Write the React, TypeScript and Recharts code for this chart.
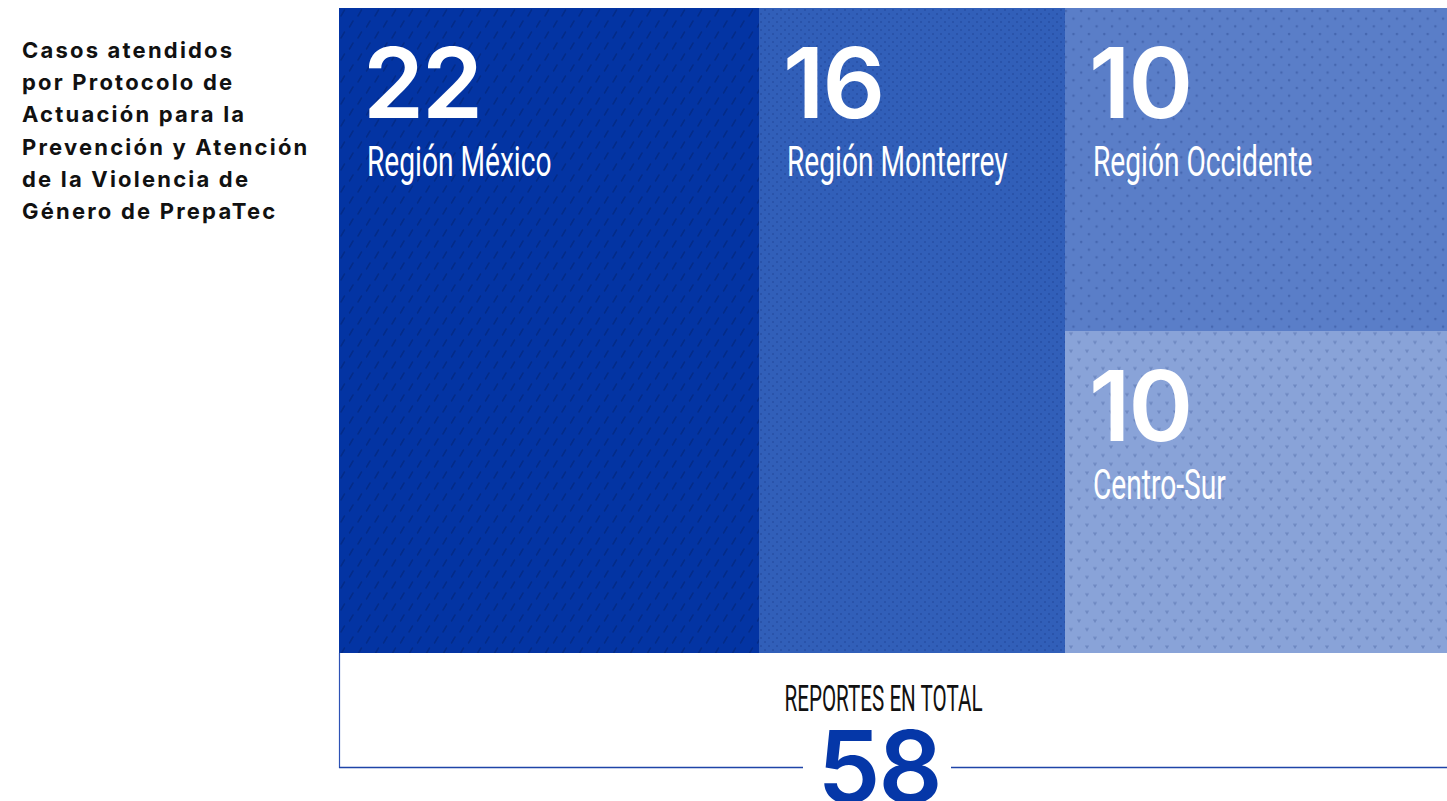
import React from 'react';
import { Treemap } from 'recharts';

// ---------- data ----------
const regionNames = ['Región México', 'Región Monterrey', 'Región Occidente', 'Centro-Sur'];
const regionValues = [22, 16, 10, 10];
const groupName = 'Occidente y Centro-Sur';
const titleLines = [
  'Casos atendidos',
  'por Protocolo de',
  'Actuación para la',
  'Prevención y Atención',
  'de la Violencia de',
  'Género de PrepaTec',
];
const totalLabel = 'REPORTES EN TOTAL';

// ---------- styles ----------
const cellColors = ['#0334A3', '#315FB9', '#5A7EC8', '#89A3D8'];
const markColors = ['#022780', '#22489A', '#3E5FA6', '#6580B9'];

const treeData = [
  { name: regionNames[0], value: regionValues[0] },
  { name: regionNames[1], value: regionValues[1] },
  {
    name: groupName,
    children: [
      { name: regionNames[2], value: regionValues[2] },
      { name: regionNames[3], value: regionValues[3] },
    ],
  },
];

const total = regionValues.reduce((a, b) => a + b, 0);

function Texture({ idx }: { idx: number }) {
  const id = `tex-${idx}`;
  const c = markColors[idx];
  if (idx === 0) {
    return (
      <pattern id={id} width={17} height={22} patternUnits="userSpaceOnUse">
        <line x1={2} y1={8} x2={5.5} y2={2} stroke={c} strokeWidth={1.6} strokeLinecap="round" opacity={0.75} />
        <line x1={10.5} y1={19} x2={14} y2={13} stroke={c} strokeWidth={1.6} strokeLinecap="round" opacity={0.75} />
      </pattern>
    );
  }
  if (idx === 1) {
    return (
      <pattern id={id} width={8} height={8} patternUnits="userSpaceOnUse">
        <circle cx={2} cy={2} r={0.95} fill={c} opacity={0.75} />
        <circle cx={6} cy={6} r={0.95} fill={c} opacity={0.75} />
      </pattern>
    );
  }
  if (idx === 2) {
    return (
      <pattern id={id} width={15.4} height={15.4} patternUnits="userSpaceOnUse">
        <circle cx={3} cy={3} r={1.3} fill={c} opacity={0.75} />
        <circle cx={10.7} cy={10.7} r={1.3} fill={c} opacity={0.75} />
      </pattern>
    );
  }
  return (
    <pattern id={id} width={16} height={17.4} patternUnits="userSpaceOnUse">
      <path d="M1.8 2.5 L6.2 2.5 L4 6 Z" fill={c} opacity={0.75} />
      <path d="M9.8 11.2 L14.2 11.2 L12 14.7 Z" fill={c} opacity={0.75} />
    </pattern>
  );
}

function CellShape(props: any) {
  const { x, y, width, height, name, value, children } = props;
  const idx = regionNames.indexOf(name);
  if (idx < 0 || (children && children.length)) return <g />;
  return (
    <g>
      <defs>
        <Texture idx={idx} />
      </defs>
      <rect x={x} y={y} width={width} height={height} fill={cellColors[idx]} />
      <rect x={x} y={y} width={width} height={height} fill={`url(#tex-${idx})`} />
      <text
        x={x + 24}
        y={y + 110}
        fill="#ffffff"
        fontFamily="Inter, 'Liberation Sans', Arial, sans-serif"
        fontWeight={600}
        fontSize={98}
        letterSpacing={-2}
      >
        {value}
      </text>
      <text
        transform={`translate(${x + 28}, ${y + 168}) scale(0.67, 1)`}
        fill="#ffffff"
        fontFamily="Roboto, 'Liberation Sans', Arial, sans-serif"
        fontWeight={400}
        fontSize={42}
      >
        {name}
      </text>
    </g>
  );
}

export default function App() {
  return (
    <div
      style={{
        position: 'fixed',
        left: 0,
        top: 0,
        width: 1447,
        height: 801,
        overflow: 'hidden',
        background: '#ffffff',
      }}
    >
      <div
        style={{
          position: 'absolute',
          left: 22,
          top: 34,
          fontFamily: "Inter, 'Liberation Sans', Arial, sans-serif",
          fontWeight: 700,
          fontSize: 22,
          lineHeight: '32.2px',
          letterSpacing: 2.2,
          color: '#111111',
          whiteSpace: 'nowrap',
        }}
      >
        {titleLines.map((l) => (
          <div key={l}>{l}</div>
        ))}
      </div>

      <div style={{ position: 'absolute', left: 339, top: 8, width: 1108, height: 645 }}>
        <Treemap
          width={1108}
          height={645}
          data={treeData}
          dataKey="value"
          nameKey="name"
          aspectRatio={1}
          isAnimationActive={false}
          content={<CellShape />}
        />
      </div>

      <svg
        width={1447}
        height={801}
        style={{ position: 'absolute', left: 0, top: 0, pointerEvents: 'none' }}
      >
        <line x1={339.5} y1={653} x2={339.5} y2={768} stroke="#2D52B5" strokeWidth={1.2} />
        <line x1={339} y1={767.5} x2={803} y2={767.5} stroke="#1F44A8" strokeWidth={1.4} />
        <line x1={951} y1={767.5} x2={1447} y2={767.5} stroke="#1F44A8" strokeWidth={1.4} />
        <text
          transform="translate(883.5, 710.5) scale(0.55, 1)"
          textAnchor="middle"
          fill="#111111"
          fontFamily="Roboto, 'Liberation Sans', Arial, sans-serif"
          fontSize={37.5}
        >
          {totalLabel}
        </text>
        <text
          x={879}
          y={803}
          textAnchor="middle"
          fill="#0537A8"
          fontFamily="Inter, 'Liberation Sans', Arial, sans-serif"
          fontWeight={600}
          fontSize={100}
          letterSpacing={-2}
        >
          {total}
        </text>
      </svg>
    </div>
  );
}
